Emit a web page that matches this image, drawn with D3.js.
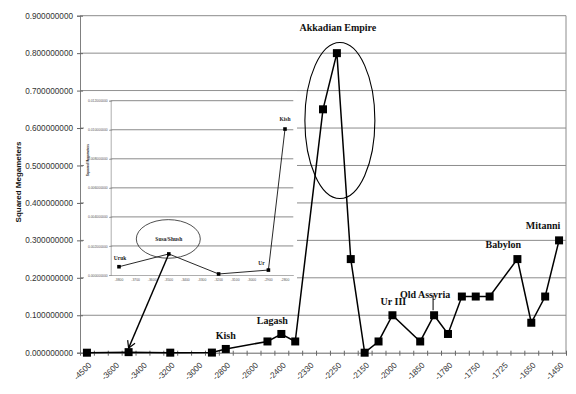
<!DOCTYPE html>
<html><head><meta charset="utf-8">
<script src="https://cdn.jsdelivr.net/npm/d3@7"></script>
<style>body{margin:0;background:#fff}svg{display:block}</style>
</head><body>
<svg id="c" width="576" height="394"></svg>
<script>
// ---- main chart data ----
const tickLabels = ["-4500","-3600","-3400","-3200","-3000","-2800","-2600","-2400","-2330","-2250","-2150","-2000","-1850","-1780","-1750","-1725","-1650","-1450"];
const pointCat = [0,3,6,9,10,13,14,15,17,18,19,20,21,22,24,25,26,27,28,29,31,32,33,34];
const values   = [0,0.0015,0.0001,0.0003,0.01,0.03,0.05,0.03,0.65,0.8,0.25,0,0.03,0.1,0.03,0.1,0.05,0.15,0.15,0.15,0.25,0.08,0.15,0.3];
const yTicks = [0,0.1,0.2,0.3,0.4,0.5,0.6,0.7,0.8,0.9];
const annoText = ["Kish","Lagash","Akkadian Empire","Ur III","Old Assyria","Babylon","Mitanni"];
const annoCat  = [10,14,18,22,25,31,34];
// ---- inset data ----
const insetLabels = ["-3800","-3700","-3600","-3500","-3400","-3300","-3200","-3100","-3000","-2900","-2800"];
const insetCat = [0,3,6,9,10];
const insetValues = [0.00057,0.00145,0.00007,0.00034,0.01005];
const insetNames = ["Uruk","Susa/Shush","","Ur","Kish"];
const insetYTicks = [0,0.002,0.004,0.006,0.008,0.01,0.012];

const svg = d3.select("#c");
const nCat = 35;
const x = d3.scaleBand().domain(d3.range(nCat)).range([80, 566]);
const xc = i => x(i) + x.bandwidth()/2;
const y = d3.scaleLinear().domain([0,0.9]).range([352.7, 15.7]);
const sans = "Liberation Sans, Arial, sans-serif";
const serif = "Liberation Serif, Times New Roman, serif";

// gridlines
svg.append("g").selectAll("line").data(yTicks.filter(d=>d>0)).join("line")
  .attr("x1",80).attr("x2",566).attr("y1",d=>y(d)).attr("y2",d=>y(d))
  .attr("stroke","#8c8c8c").attr("stroke-width",1);
svg.append("line").attr("x1",566).attr("x2",566).attr("y1",y(0.9)).attr("y2",y(0))
  .attr("stroke","#8c8c8c");

// y axis
const ya = svg.append("g").attr("transform","translate(80,0)")
  .call(d3.axisLeft(y).tickValues(yTicks).tickFormat(d3.format(".9f")).tickSize(3).tickPadding(4));
ya.select(".domain").attr("stroke","#808080");
ya.selectAll(".tick line").attr("x1",3).attr("stroke","#666");
ya.selectAll("text").attr("font-family",sans).attr("font-size",8.2).attr("fill","#333");

svg.append("text").attr("transform","translate(21,182) rotate(-90)")
  .attr("text-anchor","middle").attr("font-family",sans).attr("font-weight","bold")
  .attr("font-size",8).attr("fill","#111").text("Squared Megameters");

// x axis
const xa = svg.append("g").attr("transform",`translate(0,${y(0)})`)
  .call(d3.axisBottom(x).tickValues(d3.range(0,nCat,2)).tickFormat(i=>tickLabels[i/2]).tickSize(0));
xa.select(".domain").attr("stroke","#666");
xa.selectAll("text").attr("y",0).attr("dy","0.35em")
  .attr("transform","translate(3,11) rotate(-45)").attr("text-anchor","end")
  .attr("font-family",sans).attr("font-size",8.2).attr("fill","#333");
const xl = d3.scaleLinear().domain([0,nCat]).range([80,566]);
const xt = svg.append("g").attr("transform",`translate(0,${y(0)})`)
  .call(d3.axisBottom(xl).tickValues(d3.range(nCat+1)).tickFormat("").tickSize(3));
xt.select(".domain").remove();
xt.selectAll(".tick line").attr("y1",-2).attr("stroke","#666");

// ---- inset ----
const xi = d3.scaleBand().domain(d3.range(insetLabels.length)).range([110.7, 293.3]);
const xic = i => xi(i) + xi.bandwidth()/2;
const yi = d3.scaleLinear().domain([0,0.012]).range([275, 100.7]);
const ins = svg.append("g");
ins.append("rect").attr("x",84).attr("y",91.5).attr("width",213).attr("height",198).attr("fill","#fff");
ins.append("g").selectAll("line").data(insetYTicks.filter(d=>d>0)).join("line")
  .attr("x1",110.7).attr("x2",293.3).attr("y1",d=>yi(d)).attr("y2",d=>yi(d))
  .attr("stroke","#8a8a8a").attr("stroke-width",1);
const iya = ins.append("g").attr("transform","translate(110.7,0)")
  .call(d3.axisLeft(yi).tickValues(insetYTicks).tickFormat(d3.format(".9f")).tickSize(1.5).tickPadding(1.5));
iya.select(".domain").attr("stroke","#999").attr("stroke-width",0.8);
iya.selectAll(".tick line").attr("x1",1.5).attr("stroke","#999");
iya.selectAll("text").attr("font-family",sans).attr("font-size",3.4).attr("fill","#555");
const ixa = ins.append("g").attr("transform","translate(0,275)")
  .call(d3.axisBottom(xi).tickFormat((d,i)=>insetLabels[i]).tickSize(0).tickPadding(4));
ixa.select(".domain").attr("stroke","#999").attr("stroke-width",0.8);
ixa.selectAll("text").attr("font-family",sans).attr("font-size",3.4).attr("fill","#555");
ins.append("text").attr("transform","translate(89,160) rotate(-90)").attr("text-anchor","middle")
  .attr("font-family",sans).attr("font-weight","bold").attr("font-size",3.2).attr("fill","#333")
  .text("Squared Megameters");
const ipts = insetCat.map((c,i)=>[xic(c), yi(insetValues[i])]);
ins.append("path").attr("d",d3.line()(ipts)).attr("fill","none").attr("stroke","#111").attr("stroke-width",0.9);
ins.append("g").selectAll("rect").data(ipts).join("rect")
  .attr("x",d=>d[0]-1.8).attr("y",d=>d[1]-1.8).attr("width",3.6).attr("height",3.6).attr("fill","#000");
const inOff = [[1,-7],[0,-13],[0,0],[-7,-5],[0,-8]];
ins.append("g").selectAll("text").data(insetNames).join("text")
  .attr("x",(d,i)=>ipts[i][0]+inOff[i][0]).attr("y",(d,i)=>ipts[i][1]+inOff[i][1])
  .attr("text-anchor","middle").attr("font-family",serif).attr("font-weight","bold")
  .attr("font-size",5.5).attr("fill","#222").text(d=>d);
ins.append("ellipse").attr("cx",ipts[1][0]-0.5).attr("cy",ipts[1][1]-15).attr("rx",32).attr("ry",19.3)
  .attr("fill","none").attr("stroke","#222").attr("stroke-width",0.8);

// ---- main series ----
const pts = pointCat.map((c,i)=>[xc(c), y(values[i])]);
svg.append("path").attr("d",d3.line()(pts)).attr("fill","none").attr("stroke","#000").attr("stroke-width",1.5);
svg.append("g").selectAll("rect").data(pts).join("rect")
  .attr("x",d=>d[0]-4).attr("y",d=>d[1]-4).attr("width",8).attr("height",8).attr("fill","#000");

// annotations
const aOff = [[0,-10],[-9,-10],[1,-23],[1,-10],[-9,-17],[-14,-11],[-16,-11]];
svg.append("g").selectAll("text").data(annoText).join("text")
  .attr("x",(d,i)=>xc(annoCat[i])+aOff[i][0])
  .attr("y",(d,i)=>i===2 ? 31 : y(values[pointCat.indexOf(annoCat[i])])+aOff[i][1])
  .attr("text-anchor","middle").attr("font-family",serif).attr("font-weight","bold")
  .attr("font-size",10).attr("fill","#111").text(d=>d);
// Old Assyria leader
const oa = pointCat.indexOf(25);
svg.append("line").attr("x1",pts[oa][0]-1).attr("x2",pts[oa][0]-1).attr("y1",pts[oa][1]-20).attr("y2",pts[oa][1]-5)
  .attr("stroke","#000").attr("stroke-width",1);
// Akkadian ellipse
svg.append("ellipse").attr("cx",xc(18)+3).attr("cy",y(0.62)).attr("rx",35).attr("ry",78)
  .attr("fill","none").attr("stroke","#000").attr("stroke-width",1.1);

// arrow from inset Susa/Shush to main chart
svg.append("defs").append("marker").attr("id","ah").attr("viewBox","-1 -5 9 10")
  .attr("refX",7).attr("refY",0).attr("markerWidth",9).attr("markerHeight",10)
  .attr("markerUnits","userSpaceOnUse").attr("orient","auto")
  .append("path").attr("d","M0,-4L7,0L0,4").attr("fill","none").attr("stroke","#000").attr("stroke-width",1.2);
const sp = pointCat.indexOf(3);
svg.append("line").attr("x1",ipts[1][0]).attr("y1",ipts[1][1])
  .attr("x2",pts[sp][0]).attr("y2",pts[sp][1]-4)
  .attr("stroke","#000").attr("stroke-width",1.4).attr("marker-end","url(#ah)");
</script>
</body></html>
